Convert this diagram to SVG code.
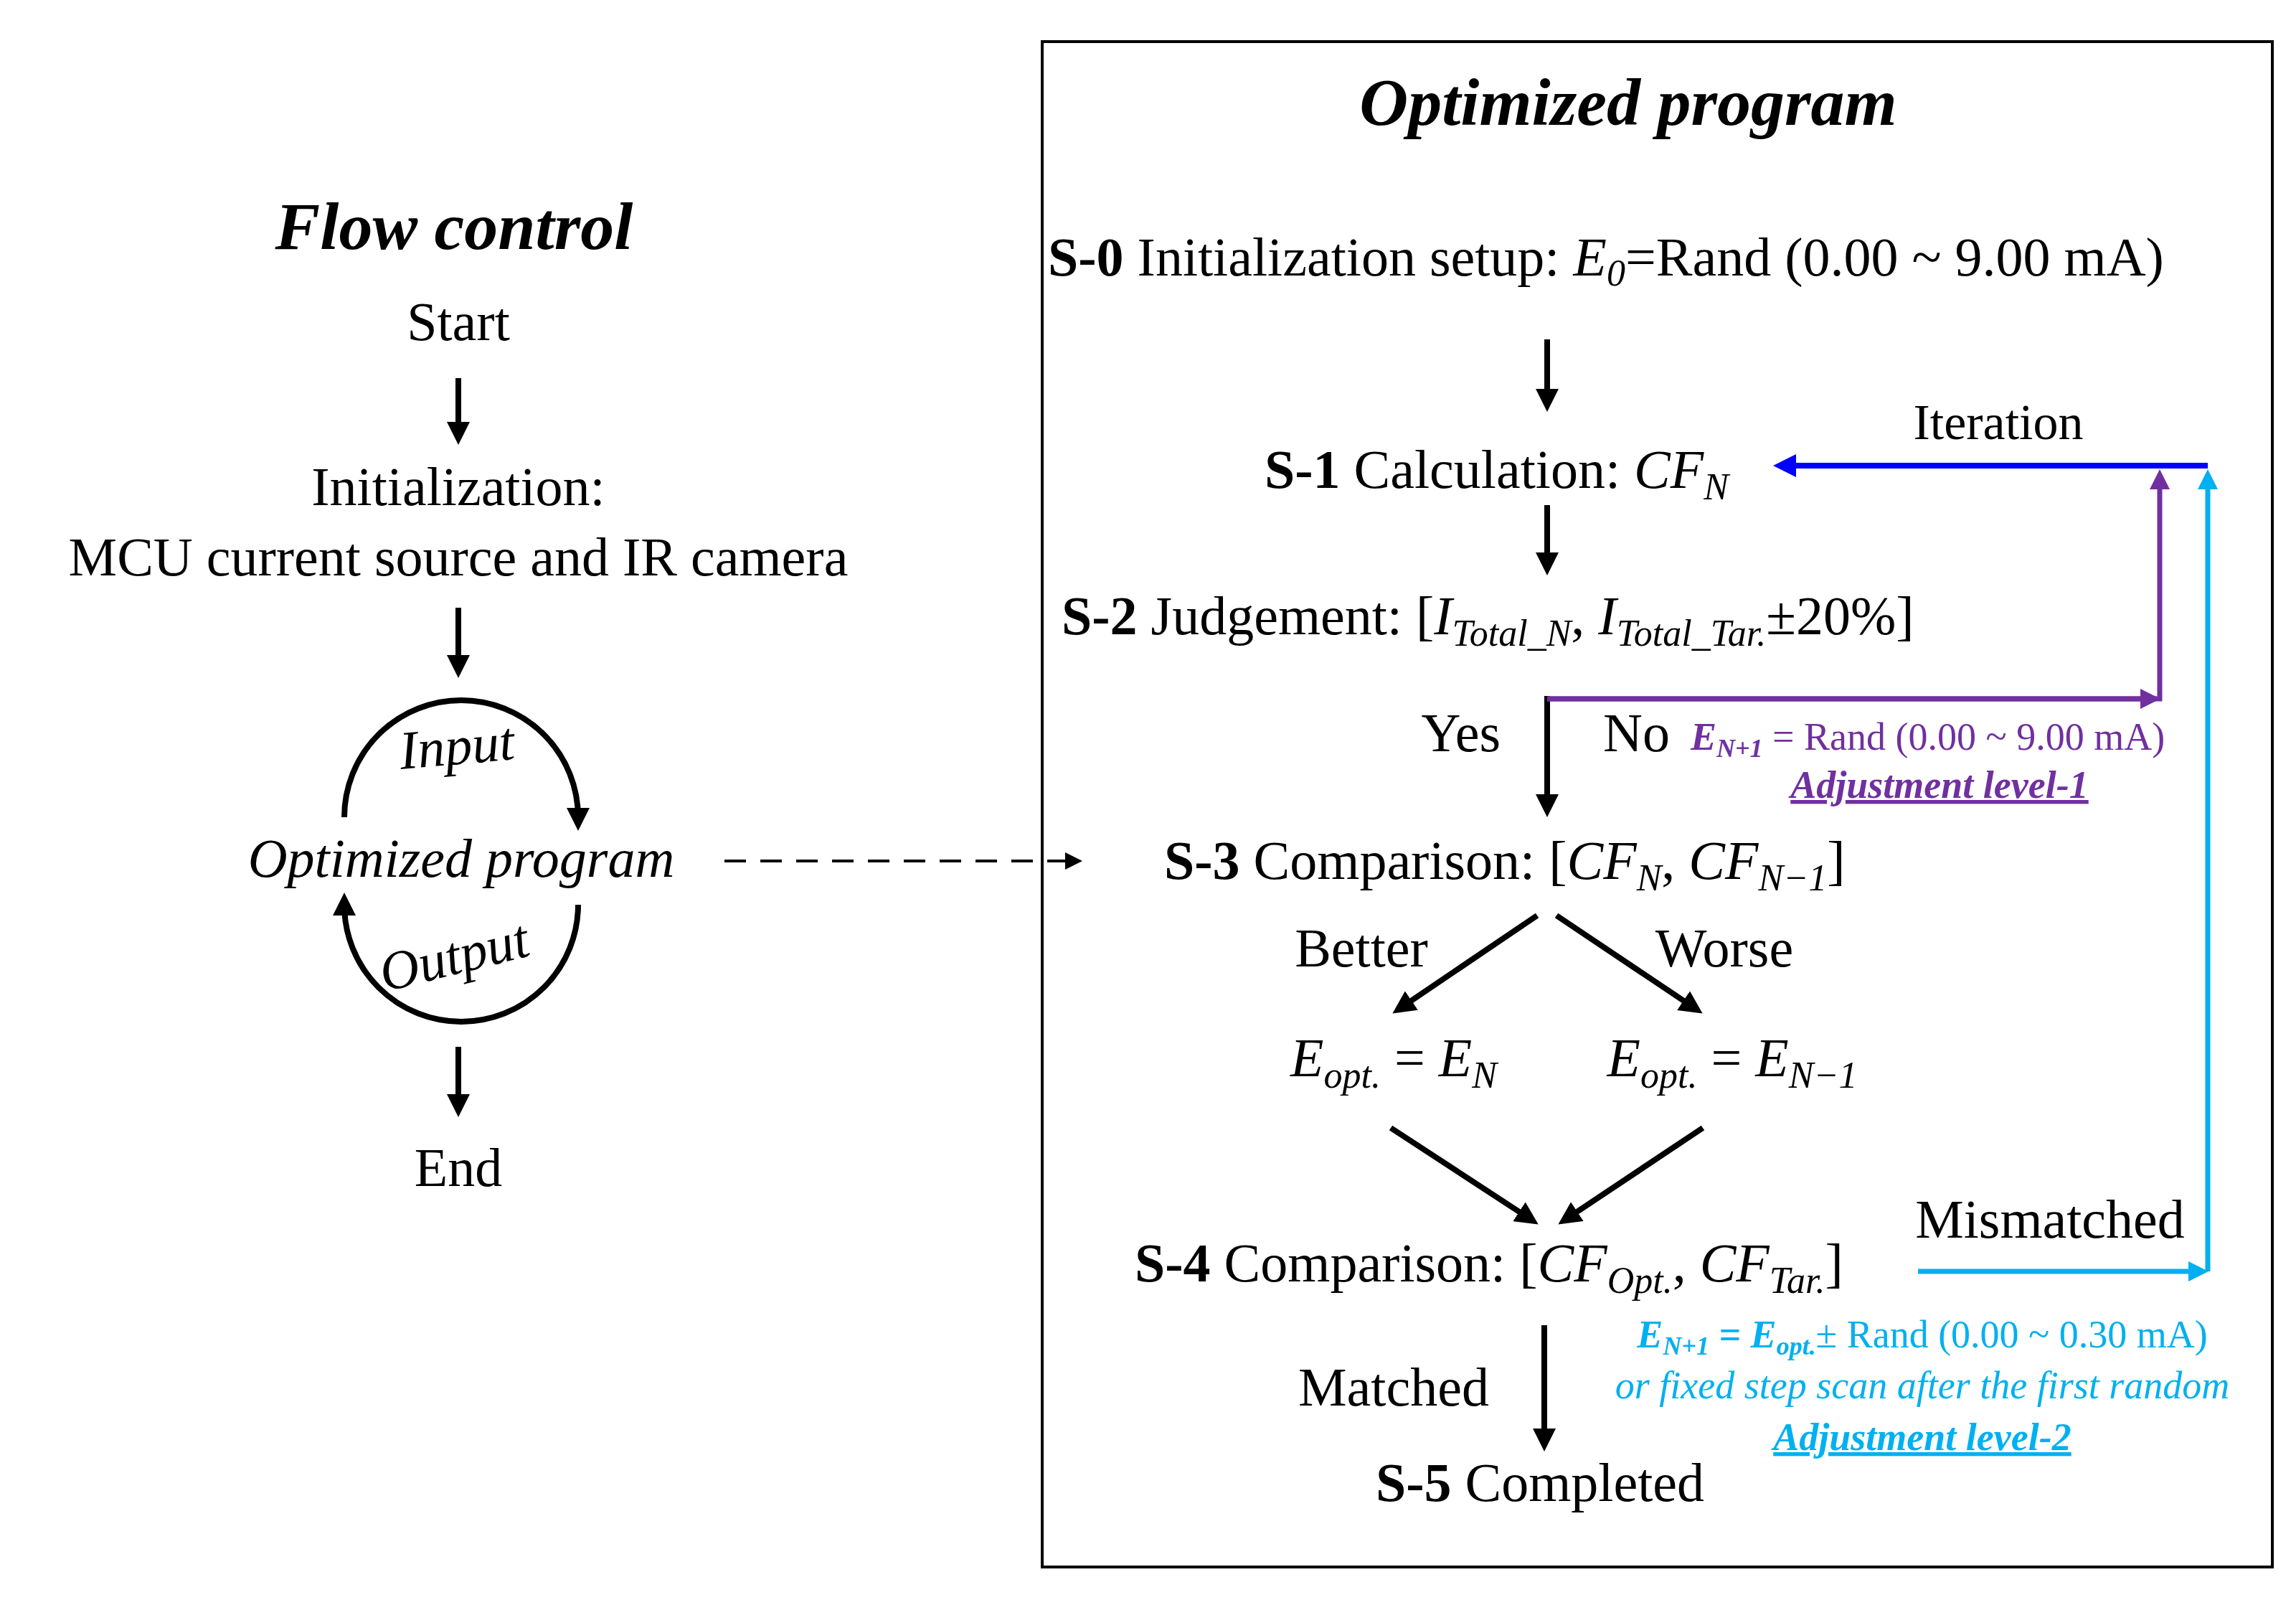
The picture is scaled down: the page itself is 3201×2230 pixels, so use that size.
<svg xmlns="http://www.w3.org/2000/svg" width="3201" height="2230" viewBox="0 0 3201 2230">
<defs>
<style>
text{font-family:"Liberation Serif","Times New Roman",serif;font-size:76px;fill:#000}
.t{font-weight:bold;font-style:italic;font-size:94px}
.b{font-weight:bold}
.i{font-style:italic}
.s{font-size:52px;font-style:italic}
.p{fill:#7030a0;font-size:54px}
.c{fill:#00b0f0;font-size:54px}
.k{stroke:#000;stroke-width:8;fill:none}
</style>
<marker id="ak" markerWidth="4" markerHeight="4" refX="3" refY="2" orient="auto" markerUnits="strokeWidth"><path d="M0,0 L4,2 L0,4 z" fill="#000"/></marker>
<marker id="ap" markerWidth="4" markerHeight="4" refX="3" refY="2" orient="auto" markerUnits="strokeWidth"><path d="M0,0 L4,2 L0,4 z" fill="#7030a0"/></marker>
<marker id="ac" markerWidth="4" markerHeight="4" refX="3" refY="2" orient="auto" markerUnits="strokeWidth"><path d="M0,0 L4,2 L0,4 z" fill="#00b0f0"/></marker>
<marker id="ab" markerWidth="4" markerHeight="4" refX="3" refY="2" orient="auto" markerUnits="strokeWidth"><path d="M0,0 L4,2 L0,4 z" fill="#0000ff"/></marker>
<marker id="ad" markerWidth="6" markerHeight="6" refX="5" refY="3" orient="auto" markerUnits="strokeWidth"><path d="M0,0 L6,3 L0,6 z" fill="#000"/></marker>
</defs>
<rect width="3201" height="2230" fill="#fff"/>
<rect x="1453" y="58" width="1715" height="2126" fill="none" stroke="#000" stroke-width="4"/>

<g id="left">
<text class="t" x="633" y="347" text-anchor="middle">Flow control</text>
<text x="639" y="474" text-anchor="middle">Start</text>
<text x="639" y="704" text-anchor="middle">Initialization:</text>
<text x="639" y="802" text-anchor="middle">MCU current source and IR camera</text>
<text class="i" x="643" y="1222" text-anchor="middle">Optimized program</text>
<text class="i" x="0" y="0" text-anchor="middle" transform="translate(639,1065) rotate(-5)">Input</text>
<text class="i" x="0" y="0" text-anchor="middle" transform="translate(639,1357) rotate(-14)">Output</text>
<text x="639" y="1653" text-anchor="middle">End</text>
</g>

<g id="right">
<text class="t" x="2270" y="174" text-anchor="middle">Optimized program</text>
<text x="1461" y="384"><tspan class="b">S-0</tspan> Initialization setup: <tspan class="i">E</tspan><tspan class="s" dy="14">0</tspan><tspan dy="-14">=Rand (0.00 ~ 9.00 mA)</tspan></text>
<text x="1763" y="680"><tspan class="b">S-1</tspan> Calculation: <tspan class="i">CF</tspan><tspan class="s" dy="16">N</tspan></text>
<text x="2786" y="612" font-size="70" text-anchor="middle" style="font-size:70px">Iteration</text>
<text x="1480" y="884"><tspan class="b">S-2</tspan> Judgement: [<tspan class="i">I</tspan><tspan class="s" dy="16">Total_N</tspan><tspan dy="-16">, </tspan><tspan class="i">I</tspan><tspan class="s" dy="16">Total_Tar.</tspan><tspan dy="-16">±20%]</tspan></text>
<text x="2092" y="1047" text-anchor="end">Yes</text>
<text x="2235" y="1047">No</text>
<text class="p" x="2357" y="1045"><tspan font-weight="bold" font-style="italic">E</tspan><tspan font-weight="bold" font-style="italic" font-size="36" dy="10">N+1</tspan><tspan dy="-10"> = Rand (0.00 ~ 9.00 mA)</tspan></text>
<text class="p" x="2704" y="1112" text-anchor="middle" font-weight="bold" font-style="italic" text-decoration="underline">Adjustment level-1</text>
<text x="1623" y="1225"><tspan class="b">S-3</tspan> Comparison: [<tspan class="i">CF</tspan><tspan class="s" dy="16">N</tspan><tspan dy="-16">, </tspan><tspan class="i">CF</tspan><tspan class="s" dy="16">N−1</tspan><tspan dy="-16">]</tspan></text>
<text x="1898" y="1347" text-anchor="middle">Better</text>
<text x="2404" y="1347" text-anchor="middle">Worse</text>
<text x="1943" y="1500" text-anchor="middle"><tspan class="i">E</tspan><tspan class="s" dy="16">opt.</tspan><tspan dy="-16"> = </tspan><tspan class="i">E</tspan><tspan class="s" dy="16">N</tspan></text>
<text x="2415" y="1500" text-anchor="middle"><tspan class="i">E</tspan><tspan class="s" dy="16">opt.</tspan><tspan dy="-16"> = </tspan><tspan class="i">E</tspan><tspan class="s" dy="16">N−1</tspan></text>
<text x="1582" y="1786"><tspan class="b">S-4</tspan> Comparison: [<tspan class="i">CF</tspan><tspan class="s" dy="16">Opt.</tspan><tspan dy="-16">, </tspan><tspan class="i">CF</tspan><tspan class="s" dy="16">Tar.</tspan><tspan dy="-16">]</tspan></text>
<text x="2858" y="1725" text-anchor="middle">Mismatched</text>
<text class="c" x="2680" y="1878" text-anchor="middle"><tspan font-weight="bold" font-style="italic">E</tspan><tspan font-weight="bold" font-style="italic" font-size="36" dy="10">N+1</tspan><tspan dy="-10" font-weight="bold" font-style="italic"> = E</tspan><tspan font-weight="bold" font-style="italic" font-size="36" dy="10">opt.</tspan><tspan dy="-10">± Rand (0.00 ~ 0.30 mA)</tspan></text>
<text class="c" x="2680" y="1949" text-anchor="middle" font-style="italic">or fixed step scan after the first random</text>
<text class="c" x="2680" y="2021" text-anchor="middle" font-weight="bold" font-style="italic" text-decoration="underline">Adjustment level-2</text>
<text x="1943" y="1959" text-anchor="middle">Matched</text>
<text x="2147" y="2092" text-anchor="middle"><tspan class="b">S-5</tspan> Completed</text>
</g>

<g id="connectors">
<path class="k" d="M639,527 V612" marker-end="url(#ak)"/>
<path class="k" d="M639,847 V937" marker-end="url(#ak)"/>
<path class="k" d="M639,1459 V1549" marker-end="url(#ak)"/>
<path class="k" d="M480,1139 A163,163 0 0 1 806,1139 V1150" marker-end="url(#ak)"/>
<path class="k" d="M806,1261 A163,163 0 0 1 480,1261 V1252" marker-end="url(#ak)"/>
<path d="M1010,1200 H1505" stroke="#000" stroke-width="4" stroke-dasharray="30,20" fill="none" marker-end="url(#ad)"/>
<path class="k" d="M2157,473 V566" marker-end="url(#ak)"/>
<path class="k" d="M2157,704 V794" marker-end="url(#ak)"/>
<path class="k" d="M2157,970 V1131" marker-end="url(#ak)"/>
<path class="k" d="M2143,1276 L1948,1408" marker-end="url(#ak)"/>
<path class="k" d="M2170,1276 L2367,1408" marker-end="url(#ak)"/>
<path class="k" d="M1939,1572 L2138,1702" marker-end="url(#ak)"/>
<path class="k" d="M2374,1572 L2179,1702" marker-end="url(#ak)"/>
<path class="k" d="M2153,1847 V2015" marker-end="url(#ak)"/>
<path d="M3078,649 H2480" stroke="#0000ff" stroke-width="8" fill="none" marker-end="url(#ab)"/>
<path d="M2157,974 H3011 V661" stroke="#7030a0" stroke-width="7" fill="none" marker-end="url(#ap)"/>
<path d="M2157,974 H3005" stroke="#7030a0" stroke-width="7" fill="none" marker-end="url(#ap)"/>
<path d="M2674,1772 H3072" stroke="#00b0f0" stroke-width="7" fill="none" marker-end="url(#ac)"/>
<path d="M3078,1772 V661" stroke="#00b0f0" stroke-width="7" fill="none" marker-end="url(#ac)"/>
</g>
</svg>
